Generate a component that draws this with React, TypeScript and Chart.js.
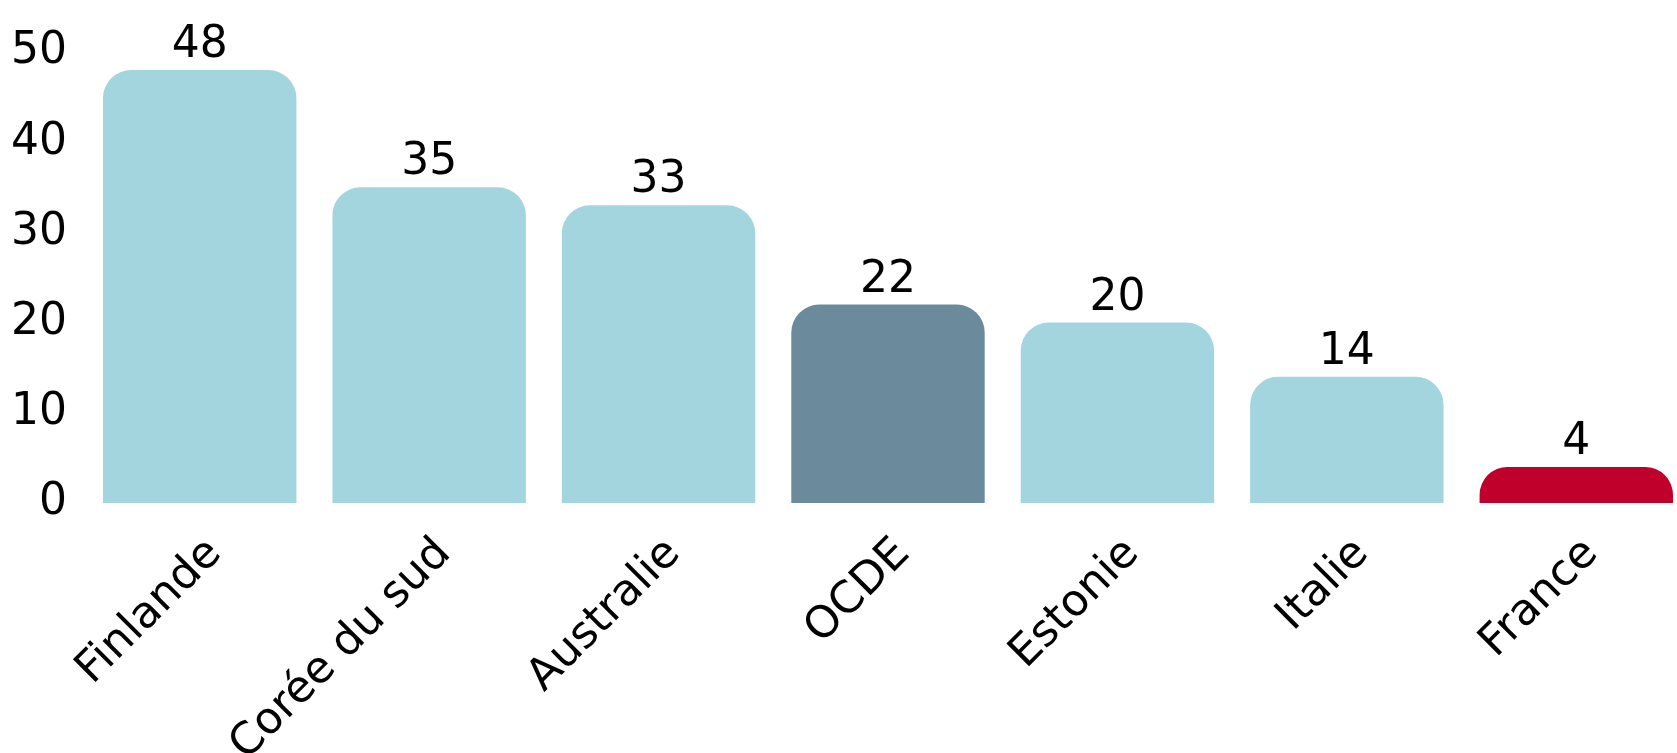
import React, { useEffect, useRef } from "react";
import { Chart, registerables } from "chart.js";

Chart.register(...registerables);

const categories = ["Finlande", "Corée du sud", "Australie", "OCDE", "Estonie", "Italie", "France"];
const values = [48, 35, 33, 22, 20, 14, 4];
const barColors = ["#A3D5DF", "#A3D5DF", "#A3D5DF", "#6B8B9C", "#A3D5DF", "#A3D5DF", "#C0002B"];
const yTicks = [0, 10, 20, 30, 40, 50];

const FONT = "'DejaVu Sans', sans-serif";
const FONT_SIZE = 44;

const valueLabels = {
  id: "valueLabels",
  afterDatasetsDraw(chart: any) {
    const ctx = chart.ctx;
    const meta = chart.getDatasetMeta(0);
    ctx.save();
    ctx.fillStyle = "#000";
    ctx.font = `${FONT_SIZE}px ${FONT}`;
    ctx.textAlign = "center";
    ctx.textBaseline = "alphabetic";
    meta.data.forEach((el: any, i: number) => {
      ctx.fillText(String(values[i]), el.x, el.y - 13);
    });
    ctx.restore();
  },
};

export default function App() {
  const ref = useRef<HTMLCanvasElement>(null);
  useEffect(() => {
    if (!ref.current) return;
    const chart = new Chart(ref.current, {
      type: "bar",
      data: {
        labels: categories,
        datasets: [
          {
            data: values,
            backgroundColor: barColors,
            borderRadius: 28,
            borderSkipped: "start",
            categoryPercentage: 1,
            barPercentage: 0.843,
            // bars start slightly below the visible axis and are clipped at the chart area,
            // so the short bars keep the same round top corners as the tall ones
            base: -4,
            clip: 0,
          },
        ],
      },
      options: {
        animation: false,
        responsive: true,
        maintainAspectRatio: false,
        layout: { padding: { top: 52, right: 9, bottom: 0, left: 0 } },
        plugins: { legend: { display: false }, tooltip: { enabled: false } },
        scales: {
          x: {
            grid: { display: false, drawTicks: false },
            border: { display: false },
            ticks: {
              color: "#000",
              font: { family: FONT, size: FONT_SIZE },
              minRotation: 45,
              maxRotation: 45,
              padding: 25,
              labelOffset: 15,
            },
            afterFit: (s: any) => {
              s.height = 250;
            },
          },
          y: {
            min: 0,
            max: 50,
            grid: { display: false, drawTicks: false },
            border: { display: false },
            afterBuildTicks: (s: any) => {
              s.ticks = yTicks.map((v) => ({ value: v }));
            },
            ticks: {
              color: "#000",
              font: { family: FONT, size: FONT_SIZE },
              padding: 18,
            },
            afterFit: (s: any) => {
              s.width = 85;
            },
          },
        },
      },
      plugins: [valueLabels],
    });
    return () => chart.destroy();
  }, []);
  return (
    <div style={{ position: "fixed", left: 0, top: 0, width: "100vw", height: "100vh", overflow: "hidden", background: "#fff" }}>
      <div style={{ position: "absolute", left: 0, top: 0, width: 1700, height: 753 }}>
        <canvas ref={ref} />
      </div>
    </div>
  );
}
